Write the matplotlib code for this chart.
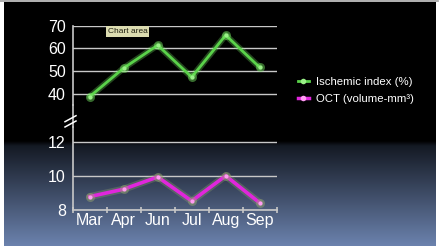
import numpy as np
import matplotlib
matplotlib.use("Agg")
import matplotlib.pyplot as plt
from matplotlib.lines import Line2D

plt.rcParams["font.family"] = ["Liberation Sans", "DejaVu Sans"]

months = ["Mar", "Apr", "Jun", "Jul", "Aug", "Sep"]
ischemic = [38.7, 51.3, 61.4, 47.3, 65.8, 51.6]
oct_volume = [8.79, 9.23, 9.95, 8.53, 10.02, 8.42]

green = "#5ad24a"
green_marker = "#9af088"
magenta = "#e026dc"
magenta_marker = "#ff9cf2"
grid_gray = "#c8c8c8"
W, H = 442, 248


def fx(px):
    return px / W


def fy(py):
    return 1 - py / H


fig = plt.figure(figsize=(4.42, 2.48), dpi=100, facecolor="white")

# slide background: black fading into blue-grey
bg = fig.add_axes([fx(4), fy(246), fx(432), 244 / H])
bg.axis("off")
t = np.linspace(0, 1, 256)
top = np.array([0.0, 0.0, 0.0])
mid = np.array([0.08, 0.10, 0.14])
bot = np.array([0.42, 0.51, 0.68])
cols = np.zeros((256, 1, 3))
for i, v in enumerate(t):
    # v = 0 at top of slide, 1 at bottom
    if v < 0.57:
        c = top
    elif v < 0.59:
        c = top + (mid - top) * (v - 0.57) / 0.02
    else:
        c = mid + (bot - mid) * (v - 0.59) / 0.41
    cols[i, 0] = c
bg.imshow(cols, aspect="auto", extent=[0, 1, 0, 1], interpolation="bilinear")
fig.add_artist(Line2D([fx(0), fx(438)], [fy(0.8), fy(0.8)], color="#a0a0a0",
                      lw=1.2))

x = np.arange(len(months))


def style_axes(ax):
    ax.set_facecolor("none")
    for s in ["top", "right"]:
        ax.spines[s].set_visible(False)
    for s in ["left", "bottom"]:
        ax.spines[s].set_color(grid_gray)
        ax.spines[s].set_linewidth(1.2)
    ax.grid(axis="y", color=grid_gray, lw=1)
    ax.set_axisbelow(True)
    ax.tick_params(colors="white", labelsize=11.5, length=0, width=1.2,
                   color=grid_gray, pad=5)
    ax.set_xlim(-0.5, len(months) - 0.5)


def glow_line(ax, yvals, color, mcolor, glow, lw):
    ax.plot(x, yvals, color=glow, lw=lw + 2.5, alpha=0.3,
            solid_capstyle="round")
    ax.plot(x, yvals, color=color, lw=lw, solid_joinstyle="miter")
    ax.plot(x, yvals, ls="none", marker="o", ms=6.5, color=glow, alpha=0.45,
            mec="none")
    ax.plot(x, yvals, ls="none", marker="o", ms=3, color=mcolor, mec="none")


ax1 = fig.add_axes([fx(72.7), fy(105), fx(204), (105 - 25.7) / H])
style_axes(ax1)
ax1.set_ylim(35, 70)
ax1.set_yticks([40, 50, 60, 70])
ax1.spines["bottom"].set_visible(False)
ax1.tick_params(axis="x", bottom=False, labelbottom=False)
glow_line(ax1, ischemic, green, green_marker, "#78ec64", 2.0)

ax2 = fig.add_axes([fx(72.7), fy(210), fx(204), (210 - 127) / H])
style_axes(ax2)
ax2.set_ylim(8, 12.9)
ax2.set_yticks([8, 10, 12])
ax2.set_yticks([8], minor=True)
ax2.tick_params(axis="y", which="minor", left=True, length=5, width=1.2,
                color=grid_gray)
ax2.set_xticks(x)
ax2.set_xticklabels(months)
ax2.set_xticks(np.arange(len(months) + 1) - 0.5, minor=True)
ax2.tick_params(axis="x", which="major", length=0, pad=2)
ax2.tick_params(axis="x", which="minor", direction="inout", length=4,
                width=1.2, color=grid_gray)
glow_line(ax2, oct_volume, magenta, magenta_marker, "#9aa870", 2.6)

# continuous spine through the axis break, plus break marks
fig.add_artist(Line2D([fx(72.7), fx(72.7)], [fy(105), fy(127)],
                      color=grid_gray, lw=1.2))
for y0 in (121.7, 127):
    fig.add_artist(Line2D([fx(65), fx(76)], [fy(y0), fy(y0 - 6)],
                          color="white", lw=1.1))

# legend
leg_handles = [
    Line2D([], [], color=green, lw=2, marker="o", ms=4, mfc=green_marker,
           mec="none"),
    Line2D([], [], color=magenta, lw=2.5, marker="o", ms=4,
           mfc=magenta_marker, mec="none"),
]
fig.legend(leg_handles, ["Ischemic index (%)", "OCT (volume-mm\u00b3)"],
           loc="upper left", bbox_to_anchor=(fx(292), fy(71)), frameon=False,
           labelcolor="white", fontsize=8.2, handlelength=1.0,
           handletextpad=0.6, labelspacing=0.6, borderpad=0)

fig.text(fx(107.5), fy(31.5), "Chart area", fontsize=6, color="#202010",
         va="center", ha="left",
         bbox=dict(boxstyle="square,pad=0.2", fc="#dcdcb0", ec="none"))

fig.savefig("out.png", dpi=100, facecolor="white")
